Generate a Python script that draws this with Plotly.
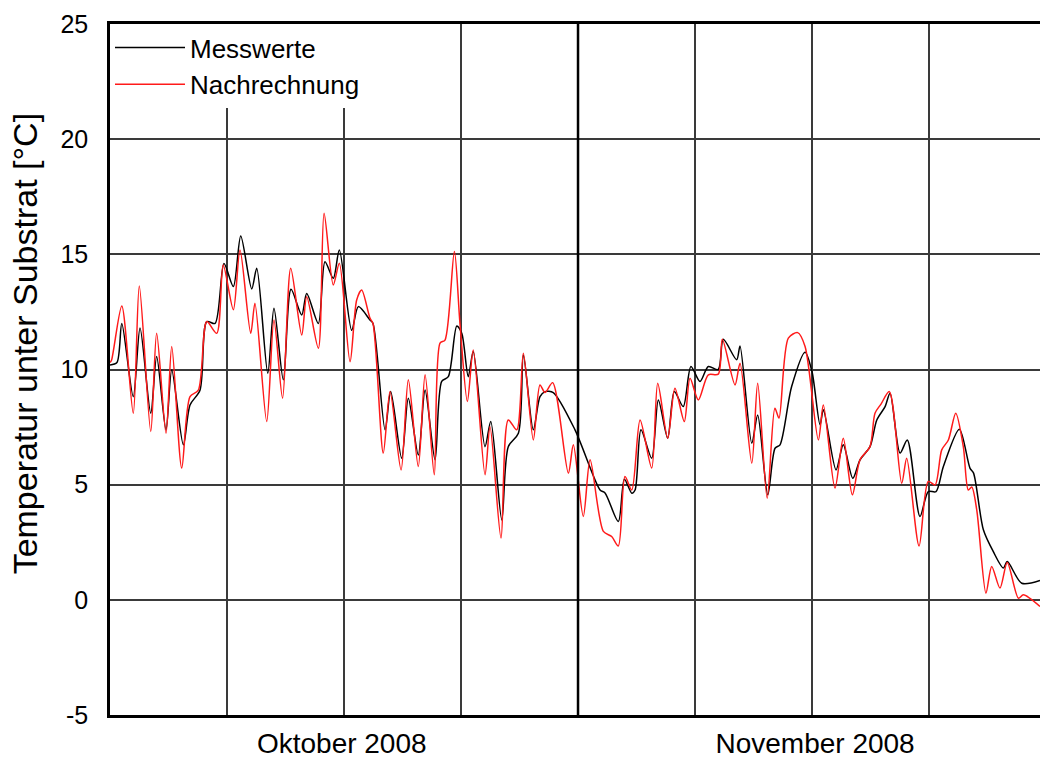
import plotly.graph_objects as go

# Days since 1 Oct 2008 (x) and temperature in °C (y)
mess_day = [0.0, 0.46, 0.78, 1.54, 1.99, 2.70, 3.09, 3.71, 4.09, 4.86, 5.30, 5.96, 6.41, 6.96,
            7.55, 8.17, 8.66, 9.39, 9.72, 10.45, 10.86, 11.48, 11.99, 12.70, 13.03, 13.80,
            14.24, 14.79, 15.19, 16.01, 16.45, 17.22, 17.42, 18.22, 18.59, 19.32, 19.76,
            20.42, 20.87, 21.53, 21.97, 22.41, 22.97, 23.30, 23.73, 24.06, 24.84, 25.22,
            25.95, 26.38, 27.05, 27.38, 28.04, 28.48, 28.81, 29.36, 30.80, 32.46, 32.79,
            33.67, 34.07, 34.56, 34.78, 35.17, 35.88, 36.32, 36.94, 37.38, 37.97, 38.48,
            39.08, 39.63, 40.29, 40.62, 41.51, 41.73, 42.51, 42.90, 43.57, 44.05, 44.38,
            45.15, 46.04, 46.50, 47.03, 47.25, 48.09, 48.57, 49.20, 49.68, 50.34, 50.79,
            51.34, 51.67, 52.33, 52.81, 53.65, 54.20, 54.71, 55.20, 56.26, 56.96, 57.20,
            57.85, 58.50, 59.17, 59.43, 60.39, 61.60]
mess_temp = [10.2, 10.3, 12.0, 8.82, 11.8, 8.1, 10.56, 7.38, 9.98, 6.73, 8.46, 9.1, 12.08, 12.0,
             14.6, 13.6, 15.8, 13.5, 14.4, 9.84, 12.66, 9.55, 13.48, 12.37, 13.3, 12.0,
             14.68, 13.96, 15.19, 11.7, 12.73, 12.15, 12.0, 7.38, 9.04, 6.15, 8.75,
             6.29, 9.11, 6.08, 9.48, 9.69, 11.89, 11.57, 9.69, 10.78, 6.65, 7.74,
             3.47, 6.65, 7.23, 10.63, 7.38, 8.82, 9.04, 9.0, 7.38, 4.77, 4.64,
             3.4, 5.24, 4.63, 4.77, 7.38, 6.15, 8.68, 7.02, 9.04, 8.39, 10.13,
             9.48, 10.13, 10.0, 11.31, 10.42, 11.02, 6.8, 8.03, 4.56, 6.58, 6.73,
             9.26, 10.75, 9.9, 7.6, 8.25, 5.64, 6.73, 5.28, 6.08, 6.65, 7.81,
             8.39, 8.97, 6.37, 6.94, 3.62, 4.7, 4.7, 5.79, 7.41, 5.72, 5.5,
             3.04, 2.1, 1.38, 1.66, 0.72, 0.84]

nach_day = [0.0, 0.10, 0.78, 1.54, 1.94, 2.70, 3.09, 3.71, 4.09, 4.75, 5.30, 5.85, 6.41, 7.07,
            7.50, 8.17, 8.61, 9.32, 9.60, 10.38, 10.86, 11.43, 11.97, 12.70, 13.03, 13.80,
            14.18, 14.79, 15.19, 15.90, 16.34, 16.67, 17.22, 17.42, 18.10, 18.55, 19.28,
            19.76, 20.42, 20.87, 21.48, 21.86, 22.19, 22.81, 23.18, 23.67, 24.06, 24.84,
            25.17, 25.90, 26.38, 26.94, 27.38, 28.04, 28.48, 28.81, 29.32, 30.36, 30.69,
            31.35, 31.80, 32.68, 33.23, 33.67, 34.11, 34.56, 35.11, 35.88, 36.28, 36.94,
            37.42, 38.04, 38.42, 38.97, 39.63, 40.29, 40.56, 41.40, 41.73, 42.51, 42.90,
            43.53, 44.04, 44.31, 44.93, 45.55, 46.04, 46.92, 47.25, 48.02, 48.57, 49.17,
            49.68, 50.34, 50.67, 51.07, 51.62, 52.44, 52.77, 53.59, 54.20, 54.65, 55.09,
            55.53, 56.02, 56.52, 56.85, 57.08, 57.41, 58.02, 58.40, 58.95, 59.43, 60.17,
            60.50, 61.60]
nach_temp = [10.3, 10.4, 12.76, 8.1, 13.63, 7.31, 11.57, 7.23, 11.0, 5.72, 8.82, 9.1, 12.08, 11.57,
             14.54, 12.59, 15.19, 11.57, 12.88, 7.74, 12.15, 8.75, 14.4, 11.5, 13.16, 10.92,
             16.78, 13.67, 14.61, 10.34, 13.02, 13.45, 12.23, 12.0, 6.37, 9.04, 5.64,
             9.55, 5.79, 9.77, 5.43, 11.14, 11.28, 15.12, 12.0, 8.61, 10.85, 5.43,
             7.52, 2.68, 7.81, 7.38, 10.71, 6.94, 9.33, 9.0, 9.43, 5.5, 6.73,
             3.62, 6.08, 2.97, 2.75, 2.34, 5.35, 4.77, 7.81, 5.72, 9.4, 7.02,
             9.19, 7.74, 9.62, 8.68, 9.77, 9.8, 11.31, 9.33, 10.27, 5.93, 9.4,
             4.41, 8.32, 7.89, 11.36, 11.6, 11.0, 6.94, 8.46, 4.85, 7.02, 4.56,
             6.08, 6.65, 8.1, 8.5, 9.04, 5.06, 6.15, 2.34, 5.14, 4.99, 6.51,
             6.94, 8.1, 6.65, 4.77, 4.9, 3.91, 0.29, 1.45, 0.51, 1.62, 0.07,
             0.22, -0.29]

series_names = ["Messwerte", "Nachrechnung"]
y_title = "Temperatur unter Substrat [°C]"
month_labels = ["Oktober 2008", "November 2008"]
month_label_pos = [15.35, 46.7]
grid_days = [7.75, 15.5, 23.25, 31.0, 38.75, 46.5, 54.25]
month_boundary = 31.0
y_ticks = [-5, 0, 5, 10, 15, 20, 25]
y_tick_text = ["-5", "0", "5", "10", "15", "20", "25"]

FONT = "Liberation Sans, Arial, sans-serif"

fig = go.Figure()
fig.add_trace(go.Scatter(x=mess_day, y=mess_temp, mode="lines", name=series_names[0],
                         line=dict(color="#000000", width=1.5, shape="spline", smoothing=0.8)))
fig.add_trace(go.Scatter(x=nach_day, y=nach_temp, mode="lines", name=series_names[1],
                         line=dict(color="#ff1a1a", width=1.5, shape="spline", smoothing=0.8)))

fig.add_vline(x=month_boundary, line=dict(color="#000000", width=2.5), layer="above")

fig.add_annotation(text=y_title, textangle=-90, xref="paper", yref="paper",
                   x=-0.092, y=0.537, xanchor="center", yanchor="middle",
                   showarrow=False, font=dict(size=34, family=FONT, color="#000000"))

fig.update_layout(
    width=1040, height=760,
    margin=dict(l=110, r=0, t=24, b=45),
    paper_bgcolor="white", plot_bgcolor="white",
    font=dict(family=FONT, color="#000000"),
    showlegend=True,
    legend=dict(x=0.0, y=1.0, xanchor="left", yanchor="top", bgcolor="white",
                font=dict(size=26, family=FONT), tracegroupgap=0,
                itemwidth=70, borderwidth=0),
    xaxis=dict(range=[0, 61.6], tickvals=month_label_pos, ticktext=month_labels,
               showgrid=False, ticks="", tickfont=dict(size=28, family=FONT),
               ticklabelstandoff=2, automargin=False,
               showline=True, linecolor="#000000", linewidth=2.5, mirror=True,
               zeroline=False,
               minor=dict(tickvals=grid_days, showgrid=True, gridcolor="#3a3a3a",
                          gridwidth=1.6, ticks="")),
    yaxis=dict(range=[-5, 25], tickvals=y_ticks, ticktext=y_tick_text,
               showgrid=True, gridcolor="#3a3a3a",
               gridwidth=1.6, ticks="", tickfont=dict(size=25, family=FONT),
               ticklabelstandoff=14, automargin=False,
               showline=True, linecolor="#000000", linewidth=2.5, zeroline=False),
)

fig.write_html("out.html", config={"displayModeBar": False},
               post_script="document.body.style.margin='0';document.body.style.padding='0';")
